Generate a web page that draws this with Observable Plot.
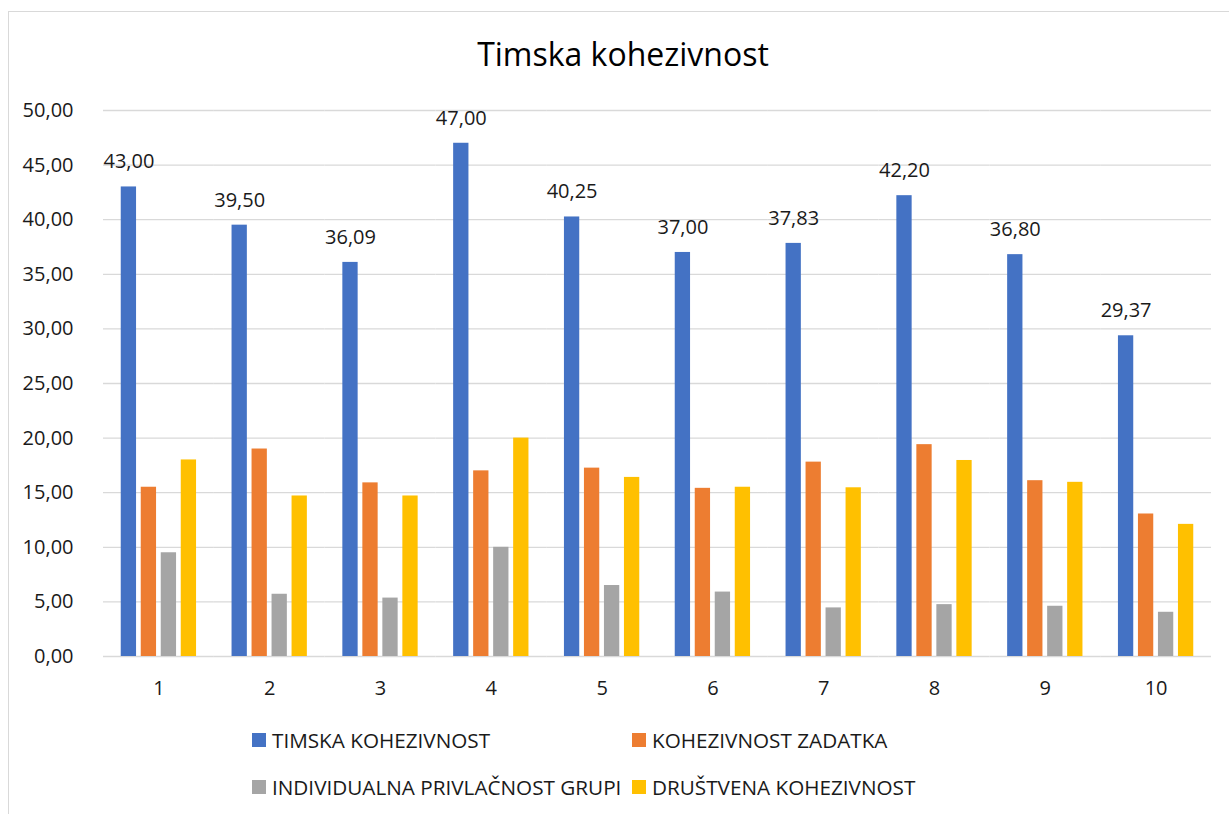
<!DOCTYPE html>
<html>
<head>
<meta charset="utf-8">
<script src="https://cdn.jsdelivr.net/npm/d3@7"></script>
<script src="https://cdn.jsdelivr.net/npm/@observablehq/plot@0.6"></script>
<style>
  html, body { margin: 0; padding: 0; background: #fff; }
  body { width: 1229px; height: 814px; position: relative; overflow: hidden; font-family: "Open Sans", sans-serif; }
  #frame { position: absolute; left: 8px; top: 11px; width: 1300px; height: 900px; border-left: 1px solid #d9d9d9; border-top: 1px solid #d9d9d9; }
  #title { position: absolute; left: 0; width: 1246px; top: 38px; text-align: center; font-size: 32px; line-height: 32px; color: #000; }
  #chart { position: absolute; left: 0; top: 80px; }
  .legrow { position: absolute; height: 28px; display: flex; align-items: center; font-size: 20.7px; line-height: 21px; color: #1a1a1a; white-space: nowrap; }
  .sw { width: 14px; height: 14px; margin-right: 6px; flex: none; }
</style>
</head>
<body>
<div id="frame"></div>
<div id="title">Timska kohezivnost</div>
<div id="chart"></div>
<div id="legend"></div>
<script>
const groups = [1, 2, 3, 4, 5, 6, 7, 8, 9, 10];
const series = ["TIMSKA KOHEZIVNOST", "KOHEZIVNOST ZADATKA", "INDIVIDUALNA PRIVLAČNOST GRUPI", "DRUŠTVENA KOHEZIVNOST"];
const colors = ["#4472C4", "#ED7D31", "#A5A5A5", "#FFC000"];
const timska = [43.00, 39.50, 36.09, 47.00, 40.25, 37.00, 37.83, 42.20, 36.80, 29.37];
const zadatka = [15.5, 19.0, 15.9, 17.0, 17.25, 15.4, 17.8, 19.4, 16.1, 13.05];
const individualna = [9.5, 5.7, 5.35, 10.0, 6.5, 5.9, 4.45, 4.75, 4.6, 4.05];
const drustvena = [18.0, 14.7, 14.7, 20.0, 16.4, 15.5, 15.45, 17.95, 15.95, 12.1];
const yTicks = [0, 5, 10, 15, 20, 25, 30, 35, 40, 45, 50];

const valuesBySeries = [timska, zadatka, individualna, drustvena];
const data = [];
groups.forEach((g, i) => {
  series.forEach((s, j) => data.push({group: g, series: s, value: valuesBySeries[j][i]}));
});
const fmt = d => d.toFixed(2).replace(".", ",");

const chart = Plot.plot({
  width: 1229,
  height: 626,
  marginTop: 30,
  marginBottom: 50,
  marginLeft: 103,
  marginRight: 18,
  style: {fontFamily: "Open Sans", fontSize: "20px", color: "#1a1a1a", background: "transparent"},
  fx: {domain: groups, padding: 0, round: false, label: null, axis: "bottom", tickSize: 0, tickPadding: 24},
  x: {domain: series, axis: null, round: false, paddingInner: 0.235, paddingOuter: 0.887},
  y: {domain: [0, 50], ticks: yTicks, tickFormat: fmt, label: null, tickSize: 0, tickPadding: 30},
  color: {domain: series, range: colors},
  marks: [
    Plot.ruleY(yTicks, {stroke: "#d9d9d9", strokeWidth: 1.3}),
    Plot.barY(data, {fx: "group", x: "series", y: "value", fill: "series"}),
    Plot.text(data.filter(d => d.series === series[0]), {
      fx: "group", x: "series", y: "value", text: d => fmt(d.value), dy: -25, fill: "#1a1a1a", fontSize: 20
    })
  ]
});
document.getElementById("chart").appendChild(chart);

// legend
const legend = document.getElementById("legend");
const legendPos = [[252, 726], [632, 726], [252, 773], [632, 773]];
series.forEach((s, i) => {
  const row = document.createElement("div");
  row.className = "legrow";
  row.style.left = legendPos[i][0] + "px";
  row.style.top = legendPos[i][1] + "px";
  const sw = document.createElement("span");
  sw.className = "sw";
  sw.style.background = colors[i];
  const t = document.createElement("span");
  t.textContent = s;
  row.appendChild(sw);
  row.appendChild(t);
  legend.appendChild(row);
});
</script>
</body>
</html>
